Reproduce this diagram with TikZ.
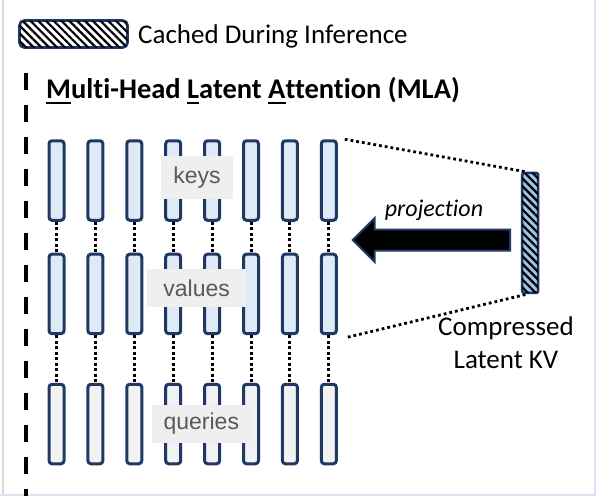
\documentclass[tikz,border=0pt]{standalone}
\usepackage{fontspec}
\setmainfont{Carlito}[Ligatures=NoCommon]
\newfontfamily\arialf{Liberation Sans}
\usetikzlibrary{patterns.meta,calc}
\definecolor{navy}{HTML}{1F3864}
\definecolor{kvfill}{HTML}{DEEBF7}
\definecolor{qfill}{HTML}{F2F2F2}
\definecolor{lblbg}{HTML}{EFEFEF}
\definecolor{lbltxt}{HTML}{595959}
\definecolor{latfill}{HTML}{9DC3E6}
\definecolor{edgeblue}{HTML}{DAE3F3}
\definecolor{edgegray}{HTML}{D9D9D9}
\newcommand\ulc[1]{\setbox0\hbox{#1}\rlap{\rule[-6pt]{\wd0}{1.6pt}}\box0}
\tikzset{
  colbox/.style={draw=navy, line width=3pt, rounded corners=3pt,
    minimum width=15pt, minimum height=79.5pt, inner sep=0pt},
  kvbox/.style={colbox, fill=kvfill},
  qbox/.style={colbox, fill=qfill},
  dotconn/.style={line width=3pt, dash pattern=on 3pt off 2.5pt},
  diagdot/.style={line width=2.8pt, dash pattern=on 2.8pt off 3pt},
  lbl/.style={fill=lblbg, text=lbltxt, inner sep=0pt,
    font=\arialf\fontsize{23}{26}\selectfont},
  hatch/.style={postaction={pattern={Lines[angle=-45,distance=5.5pt,line width=2.2pt]}}},
  txt/.style={font=\fontsize{27}{33}\selectfont, inner sep=0pt}
}
\begin{document}
\begin{tikzpicture}[x=1pt,y=-1pt]
\useasboundingbox (0,0) rectangle (596,496);
\fill[white] (0,0) rectangle (596,496);
% frame edges
\fill[edgegray] (2,0) rectangle (3.5,496);
\fill[edgeblue] (594,0) rectangle (596,496);
\fill[edgeblue] (0,494) rectangle (596,496);
% legend
\node[draw=navy, line width=2.8pt, rounded corners=5pt, fill=white, hatch,
  minimum width=108pt, minimum height=27pt, inner sep=0pt] (legbox) at (73.5,34) {};
\node[txt, anchor=west] (legtxt) at (138,36) {Cached During Inference};
% dashed separator
\coordinate (sepTop) at (26,73);
\coordinate (sepBot) at (26,496);
\draw[line width=3.5pt, dash pattern=on 17pt off 15pt] (sepTop) -- (sepBot);
% title
\node[anchor=base west, inner sep=0pt, font=\bfseries\fontsize{28.5}{33}\selectfont] (title) at (46,98)
  {\ulc{M}ulti-Head \ulc{L}atent \ulc{A}ttention (MLA)};
% columns
\foreach \i in {1,...,8} {
  \pgfmathsetmacro\cx{56.5+38.9*(\i-1)}
  \node[kvbox] (k\i) at (\cx,180.5) {};
  \node[kvbox] (v\i) at (\cx,293.9) {};
  \node[qbox]  (q\i) at (\cx,424) {};
  \draw[dotconn] (k\i.south) -- (v\i.north);
  \draw[dotconn] (v\i.south) -- (q\i.north);
}
% labels
\node[lbl, minimum width=72.6pt, minimum height=43.3pt] (keys) at (197,177.7) {\raisebox{-2pt}{keys}};
\node[lbl, minimum width=98.7pt, minimum height=37.4pt] (values) at (196.7,288) {values};
\node[lbl, minimum width=98.7pt, minimum height=37.7pt] (queries) at (201.3,423.8) {queries};
% latent
\node[draw=navy, line width=2.5pt, rounded corners=2pt, fill=latfill, hatch,
  minimum width=16pt, minimum height=120pt, inner sep=0pt] (lat) at (530.2,232.9) {};
\draw[diagdot] ([xshift=7pt]k8.north east) -- ([xshift=4pt]lat.north west);
\draw[diagdot] ([xshift=10pt,yshift=-2pt]v8.south east) -- ([xshift=6pt]lat.south west);
\node[txt, align=center] (latlbl) at (506,343) {Compressed\\Latent KV};
% projection arrow
\coordinate (arrtip) at (352.7,240);
\coordinate (arrtail) at (510,240);
\fill[black, draw=navy, line width=2pt, line join=miter]
  (arrtip) -- ($(arrtip)+(22,-22)$) -- ($(arrtip)+(22,-10.5)$) -- ($(arrtail)+(0,-10.5)$)
  -- ($(arrtail)+(0,10.5)$) -- ($(arrtip)+(22,10.5)$) -- ($(arrtip)+(22,22)$) -- cycle;
\node[txt, font=\itshape\fontsize{24}{28}\selectfont] (proj) at (434,210) {projection};
\end{tikzpicture}
\end{document}
